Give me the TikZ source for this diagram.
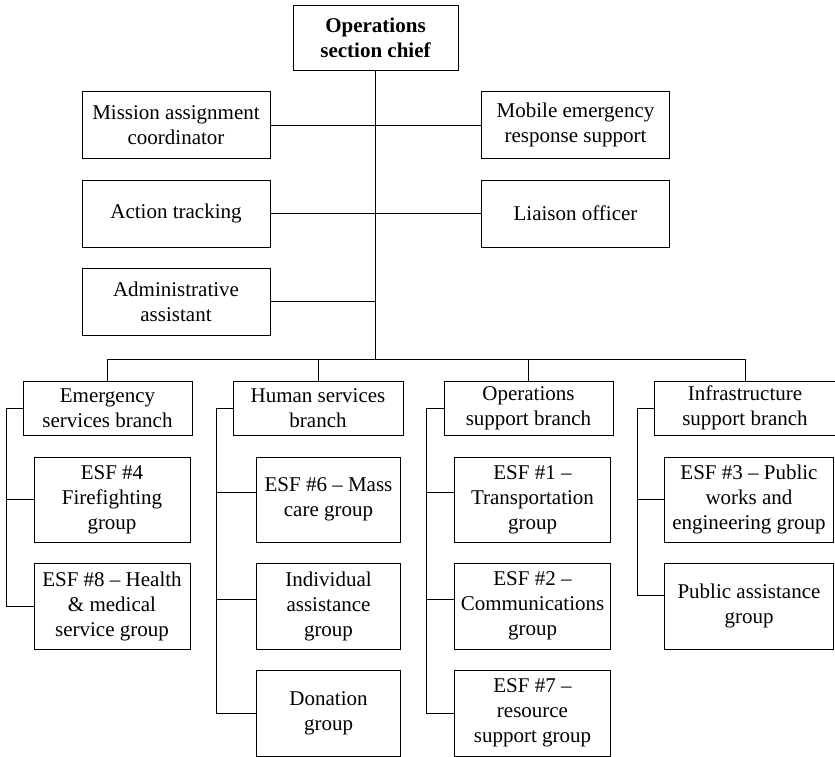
\documentclass[tikz,border=0pt]{standalone}
\usepackage{fontspec}
\setmainfont{Liberation Serif}
\begin{document}
\begin{tikzpicture}[x=1pt,y=-1pt,
  line width=0.9pt,
  box/.style={draw, inner sep=0pt, align=center,
    font=\fontsize{21}{25}\selectfont},
  topbox/.style={box, minimum width=188pt, minimum height=67pt},
  branchbox/.style={box, minimum width=169pt, minimum height=54pt},
  groupbox/.style={box, minimum width=156pt, minimum height=85pt}]
\useasboundingbox (0,0) rectangle (835,757);

% Chief and staff
\node[box, minimum width=165pt, minimum height=65pt, font=\fontsize{21}{25}\selectfont\bfseries]
  (chief) at (375.5,37.5) {Operations\\section chief};
\node[topbox] (mac) at (176,125) {Mission assignment\\coordinator};
\node[topbox] (act) at (176,213.5) {Action tracking};
\node[topbox] (adm) at (176,301.5) {Administrative\\assistant};
\node[topbox] (mob) at (575.5,125) {Mobile emergency\\response support};
\node[topbox] (lia) at (575.5,213.5) {Liaison officer};

\coordinate (bus) at (375.5,359);
\draw (chief.south) -- (bus);
\draw (mac.east) -- (mob.west);
\draw (act.east) -- (lia.west);
\draw (adm.east) -- (adm.east -| bus);

% Branches
\node[branchbox] (esb) at (107.5,408) {Emergency\\services branch};
\node[branchbox, minimum width=170pt] (hsb) at (318,408) {Human services\\branch};
\node[branchbox] (osb) at (528.5,408) {Operations\\support branch};
\node[branchbox, minimum width=181pt] (isb) at (745,408) {Infrastructure\\support branch};

\draw (esb.north) -- (esb.north |- bus) -- (isb.north |- bus) -- (isb.north);
\draw (hsb.north) -- (hsb.north |- bus);
\draw (osb.north) -- (osb.north |- bus);

% Groups
\node[groupbox] (esf4) at (112,499.5) {ESF \#4\\Firefighting\\group};
\node[groupbox, minimum height=86pt] (esf8) at (112,606) {ESF \#8 – Health\\\& medical\\service group};

\node[groupbox, minimum width=144pt] (esf6) at (328.5,499.5) {ESF \#6 – Mass\\care group};
\node[groupbox, minimum width=144pt, minimum height=86pt] (ind) at (328.5,606) {Individual\\assistance\\group};
\node[groupbox, minimum width=144pt, minimum height=86pt] (don) at (328.5,713) {Donation\\group};

\node[groupbox] (esf1) at (532.5,499.5) {ESF \#1 –\\Transportation\\group};
\node[groupbox, minimum height=86pt] (esf2) at (532.5,606) {ESF \#2 –\\Communications\\group};
\node[groupbox, minimum height=86pt] (esf7) at (532.5,713) {ESF \#7 –\\resource\\support group};

\node[groupbox, minimum width=169pt] (esf3) at (749,499.5) {ESF \#3 – Public\\works and\\engineering group};
\node[groupbox, minimum width=169pt, minimum height=86pt] (pub) at (749,606) {Public assistance\\group};

% Branch spines
\coordinate (es) at (6,408);
\coordinate (hs) at (216,408);
\coordinate (os) at (426,408);
\coordinate (is) at (637,408);

\draw (esb.west) -- (es) |- (esf8.west);
\draw (es |- esf4.west) -- (esf4.west);

\draw (hsb.west) -- (hs) |- (don.west);
\draw (hs |- 0,492.7) -- (esf6.west |- 0,492.7);
\draw (hs |- 0,599.3) -- (ind.west |- 0,599.3);

\draw (osb.west) -- (os) |- (esf7.west);
\draw (os |- 0,492.7) -- (esf1.west |- 0,492.7);
\draw (os |- 0,599.3) -- (esf2.west |- 0,599.3);

\draw (isb.west) -- (is) |- (pub.west |- 0,595.7);
\draw (is |- esf3.west) -- (esf3.west);
\end{tikzpicture}
\end{document}
